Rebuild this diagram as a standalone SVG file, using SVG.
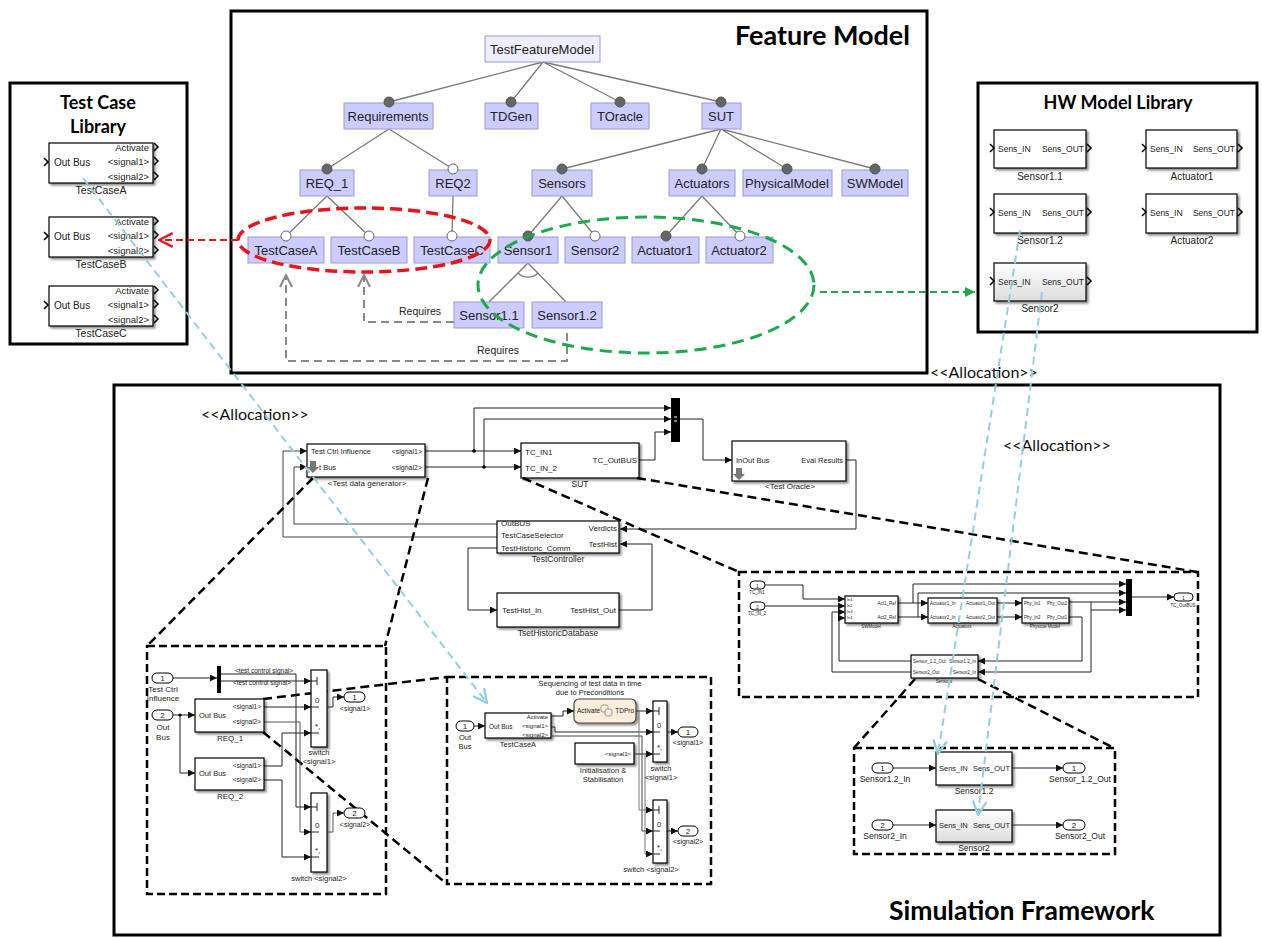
<svg xmlns="http://www.w3.org/2000/svg" width="1262" height="938" viewBox="0 0 1262 938">
<style>
.frame{fill:none;stroke:#000;stroke-width:3}
.title{font-family:Lato,"Liberation Sans",sans-serif;font-weight:bold;fill:#000}
.alloc{font-family:Lato,"Liberation Sans",sans-serif;font-size:16px;fill:#111}
.fm{fill:#ccccff;stroke:#9a9ad6;stroke-width:1}
.fm0{fill:#eeeefc;stroke:#9a9ad6;stroke-width:1}
.fmt{font-family:"Liberation Sans",Arial,sans-serif;font-size:13px;text-anchor:middle;fill:#222}
.fl{stroke:#7a7a7a;stroke-width:1.3;fill:none}
.df{fill:#666;stroke:#555;stroke-width:1}
.do{fill:#fff;stroke:#666;stroke-width:1}
.blk{fill:#fff;stroke:#000;stroke-width:1.2;filter:url(#sh)}
.t{font-family:"Liberation Sans",Arial,sans-serif;fill:#222}
.e{text-anchor:end}
.m{text-anchor:middle}
.sig{stroke:#222;stroke-width:1;fill:none}
.sa{stroke:#222;stroke-width:1;fill:none;marker-end:url(#ar)}
.chev{stroke:#000;stroke-width:1.6;fill:none}
.port{fill:#fff;stroke:#000;stroke-width:1}
.zoomd{stroke:#000;stroke-width:2.5;fill:none;stroke-dasharray:9 5}
.panel{stroke:#000;stroke-width:2.5;fill:none;stroke-dasharray:8 4}
.blue{stroke:#92cfe0;stroke-width:2;fill:none;stroke-dasharray:8 5;marker-end:url(#mb)}
.req{stroke:#888;stroke-width:2;fill:none;stroke-dasharray:8 5;marker-end:url(#mg)}
.bar{fill:#000}
</style>
<defs>
<filter id="sh" x="-10%" y="-10%" width="130%" height="140%"><feDropShadow dx="2" dy="2" stdDeviation="1" flood-color="#000" flood-opacity="0.45"/></filter>
<linearGradient id="gr" x1="0" y1="0" x2="0" y2="1"><stop offset="0" stop-color="#fff"/><stop offset="1" stop-color="#dcdcdc"/></linearGradient>
<marker id="ar" viewBox="0 0 10 10" refX="10" refY="5" markerWidth="7" markerHeight="7" markerUnits="userSpaceOnUse" orient="auto"><path d="M0,0 L10,5 L0,10 z" fill="#111"/></marker>
<marker id="mb" viewBox="0 0 14 14" refX="13" refY="7" markerWidth="16" markerHeight="16" markerUnits="userSpaceOnUse" orient="auto"><path d="M1,1 L13,7 L1,13" fill="none" stroke="#92cfe0" stroke-width="2"/></marker>
<marker id="mg" viewBox="0 0 14 14" refX="13" refY="7" markerWidth="14" markerHeight="14" markerUnits="userSpaceOnUse" orient="auto"><path d="M1,1 L13,7 L1,13" fill="none" stroke="#888" stroke-width="2"/></marker>
<marker id="mr" viewBox="0 0 14 14" refX="13" refY="7" markerWidth="16" markerHeight="16" markerUnits="userSpaceOnUse" orient="auto"><path d="M1,1 L13,7 L1,13" fill="none" stroke="#e8141b" stroke-width="2"/></marker>
<marker id="mgr" viewBox="0 0 10 10" refX="10" refY="5" markerWidth="10" markerHeight="10" markerUnits="userSpaceOnUse" orient="auto"><path d="M0,0 L10,5 L0,10 z" fill="#1aaa4a"/></marker>
</defs>
<rect width="1262" height="938" fill="#fff"/>

<!-- Frames -->
<g id="test-case-library">
<rect class="frame" x="10" y="83" width="177" height="261"/>
<text class="title m" x="98" y="109" font-size="18">Test Case</text>
<text class="title m" x="98" y="133" font-size="18">Library</text>
<g id="lib-tca">
<rect class="blk" x="49" y="143" width="104" height="40"/>
<text class="t" x="54" y="166" font-size="10">Out Bus</text>
<text class="t e" x="149" y="151" font-size="9.5">Activate</text>
<text class="t e" x="149" y="165" font-size="9.5">&lt;signal1&gt;</text>
<text class="t e" x="149" y="180" font-size="9.5">&lt;signal2&gt;</text>
<path class="chev" d="M44,158 L48,162 L44,166 M154,143 L158,147 L154,151 M154,157 L158,161 L154,165 M154,172 L158,176 L154,180"/>
<text class="t m" x="101" y="194" font-size="10.5">TestCaseA</text>
</g>
<g id="lib-tcb">
<rect class="blk" x="49" y="217" width="104" height="40"/>
<text class="t" x="54" y="240" font-size="10">Out Bus</text>
<text class="t e" x="149" y="225" font-size="9.5">Activate</text>
<text class="t e" x="149" y="239" font-size="9.5">&lt;signal1&gt;</text>
<text class="t e" x="149" y="254" font-size="9.5">&lt;signal2&gt;</text>
<path class="chev" d="M44,232 L48,236 L44,240 M154,217 L158,221 L154,225 M154,231 L158,235 L154,239 M154,246 L158,250 L154,254"/>
<text class="t m" x="101" y="268" font-size="10.5">TestCaseB</text>
</g>
<g id="lib-tcc">
<rect class="blk" x="49" y="286" width="104" height="40"/>
<text class="t" x="54" y="309" font-size="10">Out Bus</text>
<text class="t e" x="149" y="294" font-size="9.5">Activate</text>
<text class="t e" x="149" y="308" font-size="9.5">&lt;signal1&gt;</text>
<text class="t e" x="149" y="323" font-size="9.5">&lt;signal2&gt;</text>
<path class="chev" d="M44,301 L48,305 L44,309 M154,286 L158,290 L154,294 M154,300 L158,304 L154,308 M154,315 L158,319 L154,323"/>
<text class="t m" x="101" y="337" font-size="10.5">TestCaseC</text>
</g>
</g>

<g id="feature-model">
<rect class="frame" x="231" y="11" width="696" height="362"/>
<text class="title e" x="910" y="45" font-size="27">Feature Model</text>
</g>

<g id="hw-model-library">
<rect class="frame" x="978" y="83" width="279" height="249"/>
<text class="title m" x="1118" y="109" font-size="18">HW Model Library</text>
<g id="hw-s11"><rect class="blk" x="994" y="130" width="92" height="38"/>
<text class="t" x="998" y="152" font-size="8.5">Sens_IN</text><text class="t e" x="1084" y="152" font-size="8.5">Sens_OUT</text>
<path class="chev" d="M990,144 L994,148 L990,152 M1087,144 L1091,148 L1087,152"/>
<text class="t m" x="1040" y="180" font-size="10">Sensor1.1</text></g>
<g id="hw-a1"><rect class="blk" x="1146" y="130" width="91" height="38"/>
<text class="t" x="1150" y="152" font-size="8.5">Sens_IN</text><text class="t e" x="1235" y="152" font-size="8.5">Sens_OUT</text>
<path class="chev" d="M1142,144 L1146,148 L1142,152 M1238,144 L1242,148 L1238,152"/>
<text class="t m" x="1192" y="180" font-size="10">Actuator1</text></g>
<g id="hw-s12"><rect class="blk" x="994" y="194" width="92" height="39"/>
<text class="t" x="998" y="216" font-size="8.5">Sens_IN</text><text class="t e" x="1084" y="216" font-size="8.5">Sens_OUT</text>
<path class="chev" d="M990,208 L994,212 L990,216 M1087,208 L1091,212 L1087,216"/>
<text class="t m" x="1040" y="244" font-size="10">Sensor1.2</text></g>
<g id="hw-a2"><rect class="blk" x="1146" y="194" width="91" height="39"/>
<text class="t" x="1150" y="216" font-size="8.5">Sens_IN</text><text class="t e" x="1235" y="216" font-size="8.5">Sens_OUT</text>
<path class="chev" d="M1142,208 L1146,212 L1142,216 M1238,208 L1242,212 L1238,216"/>
<text class="t m" x="1192" y="244" font-size="10">Actuator2</text></g>
<g id="hw-s2"><rect class="blk" x="994" y="263" width="92" height="38" style="fill:url(#gr)"/>
<text class="t" x="998" y="285" font-size="8.5">Sens_IN</text><text class="t e" x="1084" y="285" font-size="8.5">Sens_OUT</text>
<path class="chev" d="M990,277 L994,281 L990,285 M1087,277 L1091,281 L1087,285"/>
<text class="t m" x="1040" y="312" font-size="10">Sensor2</text></g>
</g>

<g id="simulation-framework">
<rect class="frame" x="114" y="385" width="1106" height="550"/>
<text class="title" x="889" y="920" font-size="26.5">Simulation Framework</text>
</g>

<text class="alloc" x="930" y="378">&lt;&lt;Allocation&gt;&gt;</text>
<text class="alloc" x="201" y="420">&lt;&lt;Allocation&gt;&gt;</text>
<text class="alloc" x="1003" y="451">&lt;&lt;Allocation&gt;&gt;</text>

<!-- Feature model connectors -->
<g id="fm-connectors">
<path class="fl" d="M543,62 L389,102 M543,62 L511,102 M543,62 L620,102 M543,62 L721,102"/>
<path class="fl" d="M389,129 L327,169 M389,129 L453,169"/>
<path class="fl" d="M721,129 L562,169 M721,129 L702,169 M721,129 L787,169 M721,129 L875,169"/>
<path class="fl" d="M327,196 L286,236 M327,196 L369,236 M453,196 L452,236"/>
<path class="fl" d="M562,196 L528,236 M562,196 L595,236 M702,196 L666,236 M702,196 L740,236"/>
<path class="fl" d="M528,263 L489,302 M528,263 L566,302"/>
<path class="fl" d="M518,273 A14,14 0 0 0 538,273" style="fill:#fff"/>
</g>

<g id="fm-nodes">
<g id="n-root"><rect class="fm0" x="485" y="36" width="115" height="26"/><text class="fmt" x="542" y="54">TestFeatureModel</text></g>
<g id="n-req"><rect class="fm" x="344" y="103" width="89" height="26"/><text class="fmt" x="388" y="121">Requirements</text></g>
<g id="n-tdgen"><rect class="fm" x="485" y="103" width="53" height="26"/><text class="fmt" x="511" y="121">TDGen</text></g>
<g id="n-toracle"><rect class="fm" x="591" y="103" width="58" height="26"/><text class="fmt" x="620" y="121">TOracle</text></g>
<g id="n-sut"><rect class="fm" x="702" y="103" width="39" height="26"/><text class="fmt" x="721" y="121">SUT</text></g>
<g id="n-req1"><rect class="fm" x="300" y="170" width="54" height="26"/><text class="fmt" x="327" y="188">REQ_1</text></g>
<g id="n-req2"><rect class="fm" x="429" y="170" width="48" height="26"/><text class="fmt" x="453" y="188">REQ2</text></g>
<g id="n-sensors"><rect class="fm" x="532" y="170" width="60" height="26"/><text class="fmt" x="562" y="188">Sensors</text></g>
<g id="n-actuators"><rect class="fm" x="669" y="170" width="66" height="26"/><text class="fmt" x="702" y="188">Actuators</text></g>
<g id="n-phys"><rect class="fm" x="743" y="170" width="89" height="26"/><text class="fmt" x="787" y="188">PhysicalModel</text></g>
<g id="n-sw"><rect class="fm" x="842" y="170" width="66" height="26"/><text class="fmt" x="875" y="188">SWModel</text></g>
<g id="n-tca"><rect class="fm" x="248" y="237" width="76" height="26"/><text class="fmt" x="286" y="255">TestCaseA</text></g>
<g id="n-tcb"><rect class="fm" x="331" y="237" width="76" height="26"/><text class="fmt" x="369" y="255">TestCaseB</text></g>
<g id="n-tcc"><rect class="fm" x="414" y="237" width="76" height="26"/><text class="fmt" x="452" y="255">TestCaseC</text></g>
<g id="n-s1"><rect class="fm" x="498" y="237" width="60" height="26"/><text class="fmt" x="528" y="255">Sensor1</text></g>
<g id="n-s2"><rect class="fm" x="565" y="237" width="60" height="26"/><text class="fmt" x="595" y="255">Sensor2</text></g>
<g id="n-a1"><rect class="fm" x="632" y="237" width="67" height="26"/><text class="fmt" x="665" y="255">Actuator1</text></g>
<g id="n-a2"><rect class="fm" x="706" y="237" width="67" height="26"/><text class="fmt" x="739" y="255">Actuator2</text></g>
<g id="n-s11"><rect class="fm" x="454" y="302" width="70" height="26"/><text class="fmt" x="489" y="320">Sensor1.1</text></g>
<g id="n-s12"><rect class="fm" x="532" y="302" width="70" height="26"/><text class="fmt" x="567" y="320">Sensor1.2</text></g>
</g>

<g id="fm-dots">
<circle class="df" cx="389" cy="102" r="5"/><circle class="df" cx="511" cy="102" r="5"/><circle class="df" cx="620" cy="102" r="5"/><circle class="df" cx="721" cy="102" r="5"/>
<circle class="df" cx="327" cy="169" r="5"/><circle class="do" cx="453" cy="169" r="5"/>
<circle class="df" cx="562" cy="169" r="5"/><circle class="df" cx="702" cy="169" r="5"/><circle class="df" cx="787" cy="169" r="5"/><circle class="df" cx="875" cy="169" r="5"/>
<circle class="do" cx="286" cy="236" r="5"/><circle class="do" cx="369" cy="236" r="5"/><circle class="do" cx="452" cy="236" r="5"/>
<circle class="df" cx="528" cy="236" r="5"/><circle class="do" cx="595" cy="236" r="5"/><circle class="df" cx="666" cy="236" r="5"/><circle class="do" cx="740" cy="236" r="5"/>
</g>

<g id="requires-connectors">
<path class="req" d="M454,322 H364 V275"/>
<path class="req" d="M567,333 V361 H286 V275"/>
<text class="t m" x="420" y="315" font-size="10.5">Requires</text>
<text class="t m" x="498" y="354" font-size="10.5">Requires</text>
</g>

<g id="selection-ellipses">
<ellipse cx="364" cy="240" rx="126" ry="32" fill="none" stroke="#e8141b" stroke-width="3.5" stroke-dasharray="12 6"/>
<ellipse cx="646" cy="285" rx="168" ry="68" fill="none" stroke="#1aaa4a" stroke-width="3" stroke-dasharray="12 7"/>
<path d="M238,240 H159" fill="none" stroke="#e8141b" stroke-width="2" stroke-dasharray="7 4" marker-end="url(#mr)"/>
<path d="M820,292 H975" fill="none" stroke="#1aaa4a" stroke-width="2" stroke-dasharray="7 4" marker-end="url(#mgr)"/>
</g>

<!-- Simulation top level -->
<g id="sim-connectors">
<path class="sa" d="M425,451 H521"/>
<path class="sa" d="M474,451 V408 H671"/>
<path class="sa" d="M425,467 H521"/>
<path class="sa" d="M484,467 V419 H671"/>
<path class="sa" d="M639,460 H655 V432 H671"/>
<path class="sa" d="M680,419 H703 V460 H732"/>
<path class="sa" d="M846,460 H856 V529 H620"/>
<path class="sa" d="M497,548 H468 V610 H497"/>
<path class="sa" d="M619,610 H652 V544 H620"/>
<path class="sa" d="M497,524 H294 V467 H307" style="stroke:#444"/>
<path class="sa" d="M497,537 H283 V451 H307" style="stroke:#444"/>
<circle cx="474" cy="451" r="1.8"/><circle cx="484" cy="467" r="1.8"/>
</g>
<g id="tdg">
<rect class="blk" x="307" y="444" width="118" height="33"/>
<text class="t" x="311" y="454" font-size="7.5">Test Ctrl Influence</text>
<text class="t e" x="422" y="454" font-size="7">&lt;signal1&gt;</text>
<text class="t" x="319" y="470" font-size="7.5">t Bus</text>
<text class="t e" x="422" y="470" font-size="7">&lt;signal2&gt;</text>
<path d="M310,461 h6 v6 h3 l-6,6 l-6,-6 h3 z" fill="#777"/>
<text class="t m" x="367" y="486" font-size="8">&lt;Test data generator&gt;</text>
</g>
<g id="sut">
<rect class="blk" x="521" y="443" width="118" height="35"/>
<text class="t" x="525" y="455" font-size="8">TC_IN1</text>
<text class="t" x="525" y="471" font-size="8">TC_IN_2</text>
<text class="t e" x="637" y="463" font-size="8">TC_OutBUS</text>
<text class="t m" x="580" y="487" font-size="8.5">SUT</text>
</g>
<g id="sim-mux"><rect class="bar" x="671" y="398" width="9" height="44"/><path d="M674,417 h3 M674,421 h3" stroke="#fff" stroke-width="1"/></g>
<g id="test-oracle">
<rect class="blk" x="732" y="441" width="114" height="40"/>
<text class="t" x="736" y="463" font-size="7.5">InOut  Bus</text>
<text class="t e" x="843" y="463" font-size="7.5">Eval Results</text>
<path d="M736,468 h6 v6 h3 l-6,6 l-6,-6 h3 z" fill="#777"/>
<text class="t m" x="790" y="489" font-size="8">&lt;Test Oracle&gt;</text>
</g>
<g id="test-controller">
<rect class="blk" x="497" y="521" width="122" height="32"/>
<text class="t" x="501" y="526" font-size="8">OutBUS</text>
<text class="t" x="501" y="538" font-size="8">TestCaseSelector</text>
<text class="t" x="501" y="551" font-size="8">TestHistoric_Comm</text>
<text class="t e" x="617" y="531" font-size="8">Verdicts</text>
<text class="t e" x="617" y="547" font-size="8">TestHist</text>
<text class="t m" x="558" y="562" font-size="8.5">TestController</text>
</g>
<g id="historic-db">
<rect class="blk" x="497" y="593" width="122" height="34"/>
<text class="t" x="502" y="613" font-size="8">TestHist_In</text>
<text class="t e" x="616" y="613" font-size="8">TestHist_Out</text>
<text class="t m" x="558" y="636" font-size="8.5">TsetHistoricDatabase</text>
</g>

<!-- Zoom dashed lines and panels -->
<g id="zoom-lines">
<path class="zoomd" d="M313,478 L147,646 M428,478 L385,646 M523,478 L739,572 M637,478 L1197,572 M263,699 L447,677 M263,732 L447,884 M915,679 L854,748 M978,679 L1114,748"/>
<rect class="panel" x="147" y="646" width="239" height="248"/>
<rect class="panel" x="447" y="677" width="264" height="207"/>
<rect class="panel" x="739" y="572" width="459" height="125"/>
<rect class="panel" x="854" y="748" width="261" height="106"/>
</g>

<!-- Left panel: test data generator internals -->
<g id="left-panel">
<rect class="port" x="152" y="673" width="21" height="10" rx="5"/><text class="t m" x="162.5" y="681" font-size="8">1</text>
<text class="t m" x="163" y="692" font-size="8">Test Ctrl</text><text class="t m" x="163" y="701" font-size="8">Influence</text>
<rect class="port" x="152" y="710" width="21" height="10" rx="5"/><text class="t m" x="162.5" y="718" font-size="8">2</text>
<text class="t m" x="163" y="730" font-size="8">Out</text><text class="t m" x="163" y="740" font-size="8">Bus</text>
<rect class="bar" x="217" y="666" width="4" height="27"/>
<text class="t m" x="264" y="673" font-size="6.5">&lt;test control signal&gt;</text>
<text class="t m" x="262" y="685" font-size="6.5">&lt;test control signal&gt;</text>
<path class="sa" d="M173,678 H217"/>
<path class="sa" d="M221,681 H311"/>
<path class="sa" d="M221,674 H296 V807 H311"/>
<path class="sa" d="M173,715 H195"/>
<path class="sa" d="M180,715 V773 H195"/>
<circle cx="180" cy="715" r="1.6"/>
<path class="sa" d="M264,707 H311"/>
<path class="sa" d="M264,722 H300 V832 H311" style="stroke:#555"/>
<path class="sa" d="M264,766 H282 V733 H311"/>
<path class="sa" d="M264,780 H282 V857 H311"/>
<g id="lp-req1"><rect class="blk" x="195" y="699" width="69" height="33"/>
<text class="t" x="199" y="718" font-size="7.5">Out Bus</text>
<text class="t e" x="261" y="709" font-size="6.5">&lt;signal1&gt;</text><text class="t e" x="261" y="724" font-size="6.5">&lt;signal2&gt;</text>
<text class="t m" x="230" y="741" font-size="8">REQ_1</text></g>
<g id="lp-req2"><rect class="blk" x="195" y="758" width="69" height="32"/>
<text class="t" x="199" y="776" font-size="7.5">Out Bus</text>
<text class="t e" x="261" y="768" font-size="6.5">&lt;signal1&gt;</text><text class="t e" x="261" y="782" font-size="6.5">&lt;signal2&gt;</text>
<text class="t m" x="230" y="799" font-size="8">REQ_2</text></g>
<g id="lp-sw1"><rect class="blk" x="311" y="670" width="16" height="77"/>
<path class="sig" d="M311,681 H317 M317,677 V685 M311,707 H319 M311,733 H319"/>
<text class="t" x="315" y="703" font-size="8">0</text><text class="t" x="315" y="729" font-size="8">*,</text>
<text class="t m" x="319" y="755" font-size="7.5">switch</text><text class="t m" x="319" y="764" font-size="7.5">&lt;signal1&gt;</text></g>
<g id="lp-sw2"><rect class="blk" x="311" y="793" width="16" height="79"/>
<path class="sig" d="M311,807 H317 M317,803 V811 M311,832 H319 M311,857 H319"/>
<text class="t" x="315" y="828" font-size="8">0</text><text class="t" x="315" y="853" font-size="8">*,</text>
<text class="t m" x="319" y="881" font-size="7.5">switch &lt;signal2&gt;</text></g>
<path class="sa" d="M327,707 H333 V697 H344"/>
<path class="sa" d="M327,832 H333 V813 H344" style="stroke:#555"/>
<rect class="port" x="344" y="692" width="21" height="10" rx="5"/><text class="t m" x="354.5" y="700" font-size="8">1</text>
<text class="t m" x="355" y="711" font-size="7">&lt;signal1&gt;</text>
<rect class="port" x="344" y="808" width="21" height="10" rx="5"/><text class="t m" x="354.5" y="816" font-size="8">2</text>
<text class="t m" x="355" y="827" font-size="7">&lt;signal2&gt;</text>
</g>

<!-- Middle panel -->
<g id="mid-panel">
<text class="t m" x="590" y="686" font-size="7.5">Sequencing of test data in time</text>
<text class="t m" x="590" y="695" font-size="7.5">due to Preconditions</text>
<rect class="port" x="456" y="721" width="18" height="10" rx="5"/><text class="t m" x="465" y="729" font-size="8">1</text>
<text class="t m" x="465" y="740" font-size="7.5">Out</text><text class="t m" x="465" y="749" font-size="7.5">Bus</text>
<path class="sa" d="M474,726 H485"/>
<g id="mp-tca"><rect class="blk" x="485" y="713" width="66" height="25"/>
<text class="t" x="489" y="729" font-size="6.5">Out Bus</text>
<text class="t e" x="548" y="719" font-size="6">Activate</text><text class="t e" x="548" y="728" font-size="6">&lt;signal1&gt;</text><text class="t e" x="548" y="737" font-size="6">&lt;signal2&gt;</text>
<text class="t m" x="518" y="747" font-size="7.5">TestCaseA</text></g>
<g id="mp-chart"><rect x="574" y="699" width="62" height="24" rx="5" fill="#fbeedb" stroke="#444" stroke-width="1.2" filter="url(#sh)"/>
<text class="t" x="577" y="713" font-size="6.5">Activate</text><text class="t e" x="634" y="713" font-size="6.5">TDPro</text>
<rect x="601" y="705" width="7" height="7" rx="2" fill="none" stroke="#999"/><rect x="605" y="709" width="7" height="7" rx="2" fill="#fbeedb" stroke="#999"/></g>
<g id="mp-init"><rect class="blk" x="575" y="743" width="59" height="21"/>
<text class="t e" x="631" y="756" font-size="6">&lt;signal1&gt;</text>
<text class="t m" x="603" y="773" font-size="7.5">Initialisation &amp;</text><text class="t m" x="603" y="782" font-size="7.5">Stabilisation</text></g>
<path class="sa" d="M551,716 H563 V711 H574"/>
<path class="sa" d="M551,727 H555 V732 H653"/>
<path class="sa" d="M551,736 H642 V831 H653" style="stroke:#444"/>
<path class="sa" d="M636,711 H653"/>
<path class="sa" d="M639,711 V810 H653" style="stroke:#777"/>
<path class="sa" d="M634,754 H653"/>
<path class="sa" d="M645,754 V854 H653" style="stroke:#777"/>
<g id="mp-sw1"><rect class="blk" x="653" y="701" width="14" height="61"/>
<path class="sig" d="M653,711 H659 M659,707 V715 M653,732 H660 M653,754 H660"/>
<text class="t" x="657" y="728" font-size="7.5">0</text><text class="t" x="657" y="750" font-size="7.5">*,</text>
<text class="t m" x="661" y="771" font-size="7.5">switch</text><text class="t m" x="661" y="780" font-size="7.5">&lt;signal1&gt;</text></g>
<g id="mp-sw2"><rect class="blk" x="653" y="800" width="14" height="63"/>
<path class="sig" d="M653,810 H659 M659,806 V814 M653,831 H660 M653,854 H660"/>
<text class="t" x="657" y="827" font-size="7.5">0</text><text class="t" x="657" y="850" font-size="7.5">*,</text>
<text class="t m" x="651" y="872" font-size="7.5">switch &lt;signal2&gt;</text></g>
<path class="sa" d="M667,732 H678"/>
<path class="sa" d="M667,831 H678"/>
<rect class="port" x="678" y="727" width="20" height="10" rx="5"/><text class="t m" x="688" y="735" font-size="8">1</text>
<text class="t m" x="688" y="745" font-size="7">&lt;signal1&gt;</text>
<rect class="port" x="678" y="826" width="20" height="10" rx="5"/><text class="t m" x="688" y="834" font-size="8">2</text>
<text class="t m" x="688" y="844" font-size="7">&lt;signal2&gt;</text>
</g>

<!-- SUT internal panel -->
<g id="sut-panel">
<rect class="port" x="750" y="581" width="15" height="8" rx="4"/><text class="t m" x="757.5" y="587.5" font-size="5">1</text>
<text class="t m" x="757" y="594" font-size="4.5">TC_IN1</text>
<rect class="port" x="750" y="602" width="15" height="8" rx="4"/><text class="t m" x="757.5" y="608.5" font-size="5">2</text>
<text class="t m" x="757" y="615" font-size="4.5">TC_IN_2</text>
<path class="sa" d="M765,585 H803 V599 H845"/>
<path class="sa" d="M765,606 H845"/>
<path class="sa" d="M898,603 H928"/>
<path class="sa" d="M913,603 V584 H1126"/>
<path class="sa" d="M898,617 H928"/>
<path class="sa" d="M918,617 V593 H1126"/>
<path class="sa" d="M997,603 H1022"/>
<path class="sa" d="M997,617 H1022"/>
<path class="sa" d="M1069,602 H1126"/>
<path class="sa" d="M1091,602 V672 H978"/>
<path class="sa" d="M1091,610 H1126"/>
<path class="sa" d="M1069,617 H1082 V661 H978"/>
<path class="sa" d="M911,661 H839 V618 H845"/>
<path class="sa" d="M911,672 H832 V612 H845"/>
<path class="sa" d="M1132,597 H1174"/>
<rect class="bar" x="1126" y="579" width="6" height="37"/>
<g id="sp-sw"><rect class="blk" x="845" y="596" width="53" height="27"/>
<text class="t" x="847" y="601" font-size="4">In1</text><text class="t" x="847" y="607" font-size="4">In2</text><text class="t" x="847" y="613" font-size="4">In3</text><text class="t" x="847" y="619" font-size="4">In4</text>
<text class="t e" x="896" y="605" font-size="4.5">Act1_Ref</text><text class="t e" x="896" y="619" font-size="4.5">Act2_Ref</text>
<text class="t m" x="871" y="628" font-size="4.5">SWModel</text></g>
<g id="sp-act"><rect class="blk" x="928" y="598" width="69" height="25"/>
<text class="t" x="930" y="605" font-size="4.5">Actuator1_In</text><text class="t" x="930" y="619" font-size="4.5">Actuator2_In</text>
<text class="t e" x="995" y="605" font-size="4.5">Actuator1_Out</text><text class="t e" x="995" y="619" font-size="4.5">Actuator2_Out</text>
<text class="t m" x="962" y="628" font-size="4.5">Actuators</text></g>
<g id="sp-phy"><rect class="blk" x="1022" y="598" width="47" height="25"/>
<text class="t" x="1024" y="605" font-size="4.5">Phy_In1</text><text class="t" x="1024" y="619" font-size="4.5">Phy_In2</text>
<text class="t e" x="1067" y="605" font-size="4.5">Phy_Out2</text><text class="t e" x="1067" y="619" font-size="4.5">Phy_Out1</text>
<text class="t m" x="1045" y="628" font-size="4.5">Physical Model</text></g>
<g id="sp-sens"><rect class="blk" x="911" y="655" width="67" height="23"/>
<text class="t" x="913" y="663" font-size="4.5">Sensor_1.2_Out</text><text class="t" x="913" y="674" font-size="4.5">Sensor2_Out</text>
<text class="t e" x="976" y="663" font-size="4.5">Sensor1.2_In</text><text class="t e" x="976" y="674" font-size="4.5">Sensor2_In</text>
<text class="t m" x="944" y="683" font-size="4.5">Sensors</text></g>
<rect class="port" x="1174" y="593" width="19" height="8" rx="4"/><text class="t m" x="1183.5" y="599.5" font-size="5">1</text>
<text class="t m" x="1183" y="607" font-size="4.5">TC_OutBUS</text>
</g>

<!-- Sensors panel -->
<g id="sensors-panel">
<rect class="port" x="872" y="763" width="21" height="10" rx="5"/><text class="t m" x="882.5" y="771" font-size="8">1</text>
<text class="t m" x="885" y="782" font-size="8.5">Sensor1.2_In</text>
<path class="sa" d="M893,768 H936"/>
<g id="sp-s12"><rect class="blk" x="936" y="752" width="76" height="33"/>
<text class="t" x="939" y="771" font-size="7.5">Sens_IN</text><text class="t e" x="1010" y="771" font-size="7.5">Sens_OUT</text>
<text class="t m" x="974" y="794" font-size="8.5">Sensor1.2</text></g>
<path class="sa" d="M1012,768 H1063"/>
<rect class="port" x="1063" y="763" width="22" height="10" rx="5"/><text class="t m" x="1074" y="771" font-size="8">1</text>
<text class="t m" x="1080" y="782" font-size="8.5">Sensor_1.2_Out</text>
<rect class="port" x="872" y="820" width="21" height="10" rx="5"/><text class="t m" x="882.5" y="828" font-size="8">2</text>
<text class="t m" x="885" y="839" font-size="8.5">Sensor2_In</text>
<path class="sa" d="M893,825 H936"/>
<g id="sp-s2"><rect class="blk" x="936" y="810" width="76" height="32" style="fill:url(#gr)"/>
<text class="t" x="939" y="828" font-size="7.5">Sens_IN</text><text class="t e" x="1010" y="828" font-size="7.5">Sens_OUT</text>
<text class="t m" x="974" y="851" font-size="8.5">Sensor2</text></g>
<path class="sa" d="M1012,825 H1063"/>
<rect class="port" x="1063" y="820" width="22" height="10" rx="5"/><text class="t m" x="1074" y="828" font-size="8">2</text>
<text class="t m" x="1080" y="839" font-size="8.5">Sensor2_Out</text>
</g>

<!-- Allocation lines -->
<g id="allocation-lines">
<path class="blue" d="M83,178 L487,703"/>
<path class="blue" d="M1020,230 L938,754"/>
<path class="blue" d="M1042,292 L978,815"/>
</g>
</svg>
